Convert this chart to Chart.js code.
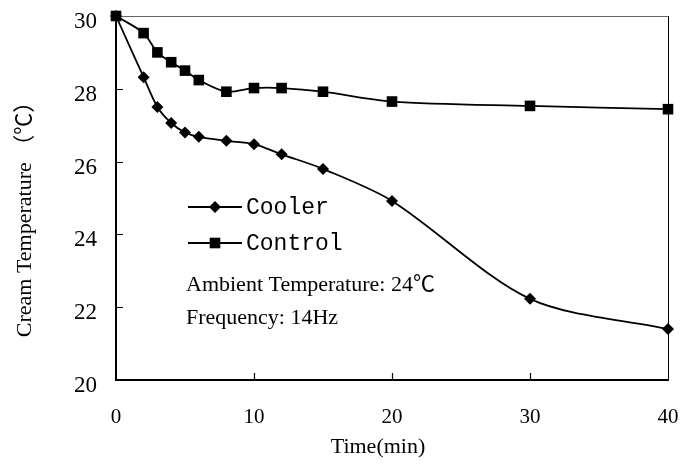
<!DOCTYPE html>
<html>
<head>
<meta charset="utf-8">
<script src="https://cdn.jsdelivr.net/npm/chart.js@4.4.1/dist/chart.umd.min.js"></script>
<style>
  html, body { margin: 0; padding: 0; background: #fff; }
  #wrap { width: 683px; height: 470px; }
</style>
</head>
<body>
<div id="wrap"><canvas id="creamChart"></canvas></div>
<script>
// time (min) and cream temperature (°C)
const times = [0, 2, 3, 4, 5, 6, 8, 10, 12, 15, 20, 30, 40];
const coolerTemps = [30, 28.32, 27.5, 27.06, 26.8, 26.68, 26.57, 26.48, 26.2, 25.8, 24.92, 22.23, 21.4];
const controlTemps = [30, 29.53, 29.0, 28.73, 28.5, 28.24, 27.92, 28.02, 28.02, 27.92, 27.65, 27.53, 27.44];
const xTicks = [0, 10, 20, 30, 40];
const yTicks = [20, 22, 24, 26, 28, 30];
const seriesNames = ['Cooler', 'Control'];
const notes = ['Ambient Temperature: 24\u2103', 'Frequency: 14Hz'];
const xTitle = 'Time(min)';
const yTitle = 'Cream Temperature \uFF08\u2103\uFF09';

const serif = '"Liberation Serif", "Times New Roman", "Noto Sans CJK SC", serif';
const mono = '"Liberation Mono", "DejaVu Sans Mono", monospace';

function toPoints(ys) {
    return times.map((t, i) => ({ x: t, y: ys[i] }));
}

// inward ticks, top/right frame, axis titles, legend and notes
const extras = {
    id: 'extras',
    beforeDatasetsDraw(chart) {
        const { ctx, chartArea: a, scales: { x, y } } = chart;
        ctx.save();
        ctx.strokeStyle = '#666';
        ctx.lineWidth = 1;
        ctx.beginPath();
        ctx.moveTo(a.left, a.top + 0.5);
        ctx.lineTo(a.right, a.top + 0.5);
        ctx.stroke();
        ctx.strokeStyle = '#000';
        ctx.beginPath();
        ctx.moveTo(a.right + 0.5, a.top);
        ctx.lineTo(a.right + 0.5, a.bottom);
        ctx.stroke();
        ctx.lineWidth = 1.2;
        ctx.beginPath();
        yTicks.slice(1, -1).forEach(v => {
            const py = Math.round(y.getPixelForValue(v)) + 0.5;
            ctx.moveTo(a.left, py);
            ctx.lineTo(a.left + 7, py);
        });
        xTicks.slice(1, -1).forEach(v => {
            const px = Math.round(x.getPixelForValue(v)) + 0.5;
            ctx.moveTo(px, a.bottom);
            ctx.lineTo(px, a.bottom - 7);
        });
        ctx.stroke();

        ctx.fillStyle = '#000';
        ctx.font = '22px ' + serif;
        ctx.textAlign = 'center';
        ctx.textBaseline = 'middle';
        ctx.fillText(xTitle, 378, 447);
        ctx.translate(25, 214);
        ctx.rotate(-Math.PI / 2);
        ctx.fillText(yTitle, 0, 0);
        ctx.restore();
    },
    afterDatasetsDraw(chart) {
        const ctx = chart.ctx;
        const rows = [207, 243];
        ctx.save();
        ctx.fillStyle = '#000';
        ctx.strokeStyle = '#000';
        chart.data.datasets.forEach((ds, i) => {
            const yy = rows[i];
            ctx.lineWidth = 1.8;
            ctx.beginPath();
            ctx.moveTo(188, yy);
            ctx.lineTo(242, yy);
            ctx.stroke();
            ctx.beginPath();
            if (ds.pointStyle === 'rectRot') {
                const r = ds.pointRadius;
                ctx.moveTo(215 - r, yy);
                ctx.lineTo(215, yy - r);
                ctx.lineTo(215 + r, yy);
                ctx.lineTo(215, yy + r);
                ctx.closePath();
            } else {
                const h = ds.pointRadius * Math.SQRT1_2;
                ctx.rect(215 - h, yy - h, 2 * h, 2 * h);
            }
            ctx.fill();
            ctx.font = '23px ' + mono;
            ctx.textAlign = 'left';
            ctx.textBaseline = 'middle';
            ctx.fillText(ds.label, 246, yy + 1);
        });
        ctx.font = '22px ' + serif;
        ctx.textBaseline = 'middle';
        ctx.fillText(notes[0], 186, 285);
        ctx.fillText(notes[1], 186, 318);
        ctx.restore();
    }
};

const ctx = document.getElementById('creamChart').getContext('2d');

const creamChart = new Chart(ctx, {
    type: 'line',
    data: {
        datasets: [{
            label: seriesNames[0],
            data: toPoints(coolerTemps),
            borderColor: '#000',
            backgroundColor: '#000',
            borderWidth: 1.8,
            pointStyle: 'rectRot',
            pointRadius: 6,
            pointBorderWidth: 0,
            tension: 0.3,
            clip: false
        }, {
            label: seriesNames[1],
            data: toPoints(controlTemps),
            borderColor: '#000',
            backgroundColor: '#000',
            borderWidth: 1.8,
            pointStyle: 'rect',
            pointRadius: 7.5,
            pointBorderWidth: 0,
            tension: 0.3,
            clip: false
        }]
    },
    options: {
        responsive: true,
        maintainAspectRatio: false,
        animation: false,
        layout: { autoPadding: false, padding: { top: 16, right: 15, left: 0, bottom: 0 } },
        plugins: {
            legend: { display: false },
            tooltip: { enabled: false }
        },
        scales: {
            x: {
                type: 'linear',
                min: 0,
                max: 40,
                afterBuildTicks: s => { s.ticks = xTicks.map(v => ({ value: v })); },
                afterFit: s => {
                    s.height = 90;
                    s.paddingLeft = 0;
                    s.paddingRight = 0;
                },
                grid: { display: false },
                border: { display: true, color: '#000', width: 2 },
                ticks: { color: '#000', padding: 17, maxRotation: 0, font: { family: serif, size: 21 } }
            },
            y: {
                min: 20,
                max: 30,
                afterBuildTicks: s => { s.ticks = yTicks.map(v => ({ value: v })); },
                afterFit: s => {
                    s.width = 116;
                    s.paddingTop = 0;
                    s.paddingBottom = 0;
                },
                grid: { display: false },
                border: { display: true, color: '#000', width: 2 },
                ticks: { color: '#000', padding: 11, labelOffset: 6, font: { family: serif, size: 23 } }
            }
        }
    },
    plugins: [extras]
});
</script>
</body>
</html>
